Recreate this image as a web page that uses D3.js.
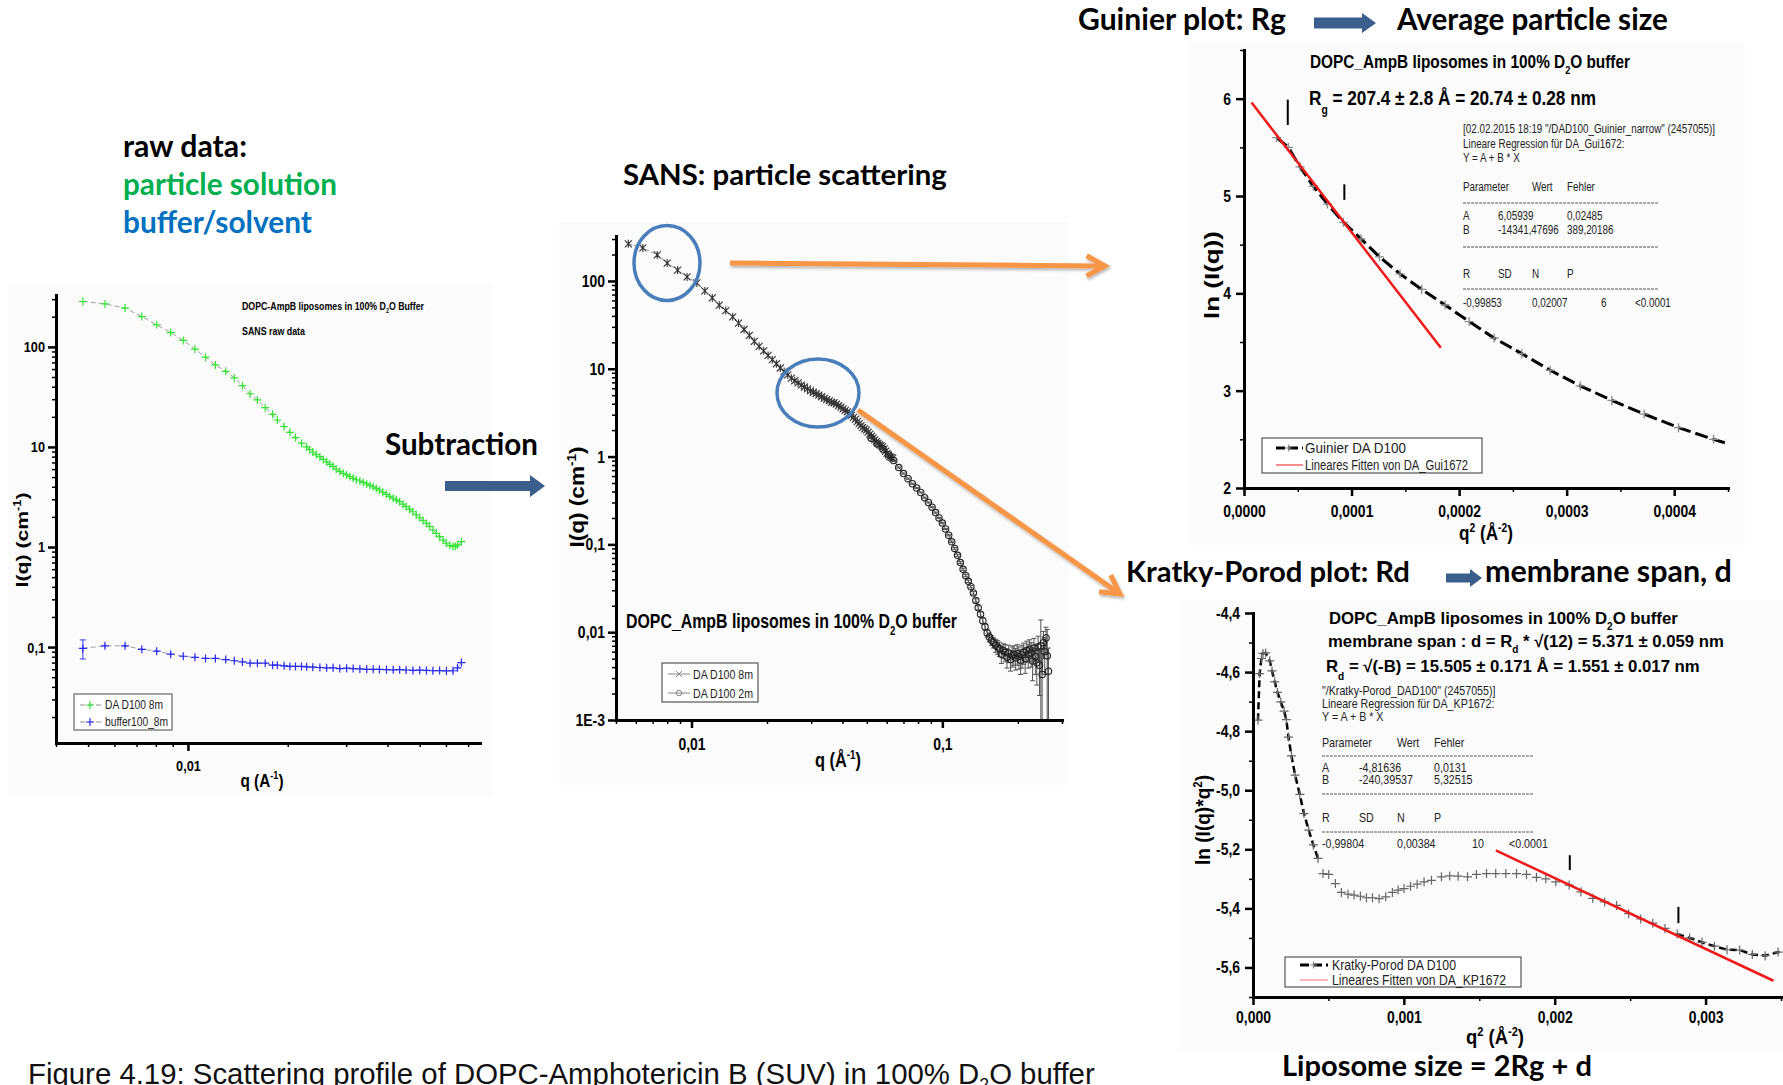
<!DOCTYPE html>
<meta charset="utf-8">
<style>

    body {
        margin: 0;
        background: #fff;
    }

    svg {
        display: block;
    }

</style>
<body>

    <div id="chart"></div>

    <script src="https://d3js.org/d3.v7.min.js"></script>

    <script type="text/javascript">

        // ---- panel 1: raw data, [q (1/A), I (1/cm)] ----
        var rawSample = [[0.00482,284],[0.00562,269],[0.00646,244],[0.00726,201],[0.00805,166],[0.00887,139],[0.00968,116],
            [0.0105,95],[0.0113,79],[0.0121,66],[0.0130,57],[0.0138,49],[0.0146,41],[0.0154,34],[0.0162,29.5],[0.0171,24.7],
            [0.0180,21.2],[0.0186,18.6],[0.0195,16],[0.0203,14],[0.0211,12.4],[0.0220,10.9],[0.0228,10.0],[0.0233,9.4],
            [0.0238,8.9],[0.0244,8.4],[0.0250,8.0],[0.0256,7.5],[0.0262,7.1],[0.0268,6.7],[0.0274,6.4],[0.0280,6.0],
            [0.0287,5.7],[0.0294,5.45],[0.0301,5.25],[0.0308,5.05],[0.0315,4.86],[0.0322,4.7],[0.0330,4.57],[0.0338,4.42],
            [0.0346,4.27],[0.0354,4.13],[0.0362,4.0],[0.0370,3.85],[0.0378,3.7],[0.0387,3.52],[0.0397,3.36],[0.0406,3.2],
            [0.0416,3.07],[0.0425,2.96],[0.0435,2.84],[0.0445,2.68],[0.0455,2.53],[0.0466,2.39],[0.0477,2.25],[0.0488,2.1],
            [0.0500,1.96],[0.0512,1.84],[0.0524,1.73],[0.0536,1.6],[0.0548,1.48],[0.0561,1.37],[0.0574,1.27],[0.0588,1.17],
            [0.0602,1.09],[0.0616,1.04],[0.0630,1.01],[0.0640,1.02],[0.0650,1.05],[0.0668,1.13]];

        // [q, I, error]
        var rawBuffer = [[0.00482,0.097,0.021],[0.00562,0.103,0.005],[0.00646,0.103,0.004],[0.00726,0.095,0.003],
            [0.00805,0.091,0.003],[0.00887,0.085,0.003],[0.00968,0.081,0.002],[0.0105,0.079,0.002],[0.0113,0.077,0.002],
            [0.0121,0.077,0.002],[0.0130,0.075,0.002],[0.0138,0.073,0.002],[0.0146,0.071,0.002],[0.0154,0.069,0.002],
            [0.0162,0.069,0.002],[0.0171,0.069,0.002],[0.0180,0.066,0.002],[0.0186,0.066,0.002],[0.0195,0.065,0.002],
            [0.0203,0.064,0.002],[0.0211,0.064,0.002],[0.0220,0.064,0.002],[0.0228,0.0635,0.002],[0.0238,0.063,0.002],
            [0.0250,0.0625,0.002],[0.0262,0.062,0.002],[0.0274,0.062,0.002],[0.0287,0.061,0.002],[0.0301,0.0615,0.002],
            [0.0315,0.061,0.002],[0.0330,0.0605,0.002],[0.0346,0.060,0.002],[0.0362,0.060,0.002],[0.0378,0.0598,0.002],
            [0.0397,0.0595,0.002],[0.0416,0.0593,0.002],[0.0435,0.0595,0.002],[0.0455,0.059,0.002],[0.0477,0.0585,0.002],
            [0.0500,0.0588,0.002],[0.0524,0.0585,0.002],[0.0548,0.058,0.002],[0.0574,0.0582,0.002],[0.0602,0.0578,0.002],
            [0.0630,0.058,0.003],[0.0650,0.062,0.003],[0.0668,0.070,0.004]];

        // ---- panel 2: buffer-subtracted SANS curve ----
        var sans8m = [[0.0056,265],[0.0064,238],[0.0073,198],[0.0080,160],[0.0088,133],[0.0096,111],[0.0105,95],[0.0113,77],
            [0.0121,64],[0.0129,53],[0.0137,46],[0.0146,39],[0.0154,33],[0.0162,28],[0.0170,24],[0.0178,20.5],[0.0186,18],
            [0.0194,16],[0.0202,14.2],[0.0210,12.7],[0.0218,11.4],[0.0226,10.2],[0.0234,9.3],[0.0242,8.5],[0.0250,7.8],
            [0.0258,7.3],[0.0266,6.9],[0.0274,6.5],[0.0282,6.2],[0.0290,5.9],[0.0298,5.6],[0.0306,5.4],[0.0314,5.2],
            [0.0322,5.0],[0.0330,4.8],[0.0338,4.6],[0.0346,4.45],[0.0354,4.3],[0.0362,4.15],[0.0370,4.1],[0.0378,3.95],
            [0.0386,3.8],[0.0394,3.65],[0.0402,3.5],[0.0410,3.35],[0.0418,3.22],[0.0426,3.1],[0.0434,2.95],[0.0442,2.8],
            [0.0450,2.65],[0.0458,2.5],[0.0466,2.37],[0.0474,2.25],[0.0482,2.15],[0.0490,2.07],[0.0498,2.0],[0.0506,1.9],
            [0.0514,1.8],[0.0522,1.71],[0.0530,1.63],[0.0538,1.55],[0.0546,1.48],[0.0554,1.42],[0.0562,1.37],[0.0570,1.33],
            [0.0578,1.29],[0.0586,1.22],[0.0594,1.15],[0.0602,1.09],[0.0610,1.04],[0.0618,1.0],[0.0626,0.98],[0.0634,0.96]];

        // [q, I, error]
        var sans2m = [[0.052,1.62,0.01],[0.055,1.40,0.01],[0.058,1.22,0.01],[0.061,1.05,0.01],[0.064,0.90,0.01],
            [0.067,0.75,0.01],[0.070,0.64,0.01],[0.073,0.56,0.008],[0.076,0.49,0.007],[0.079,0.44,0.006],[0.082,0.39,0.005],
            [0.085,0.34,0.005],[0.088,0.30,0.004],[0.091,0.265,0.004],[0.094,0.23,0.003],[0.097,0.20,0.003],[0.100,0.175,0.003],
            [0.103,0.15,0.002],[0.106,0.127,0.002],[0.109,0.107,0.002],[0.112,0.09,0.002],[0.115,0.075,0.002],
            [0.118,0.062,0.0015],[0.121,0.052,0.0015],[0.124,0.044,0.0012],[0.127,0.038,0.0012],[0.130,0.033,0.001],
            [0.133,0.028,0.001],[0.136,0.023,0.001],[0.139,0.019,0.001],[0.142,0.016,0.001],[0.145,0.0135,0.001],
            [0.148,0.0115,0.001],[0.151,0.0098,0.001],[0.154,0.0088,0.001],[0.157,0.0081,0.001],[0.160,0.0076,0.001],
            [0.163,0.0071,0.0012],[0.166,0.0068,0.0012],[0.169,0.0065,0.0012],[0.172,0.0056,0.0012],[0.175,0.0062,0.0012],
            [0.178,0.0059,0.0013],[0.181,0.0052,0.0013],[0.184,0.0058,0.0013],[0.187,0.0049,0.0013],[0.190,0.0054,0.0014],
            [0.193,0.0056,0.0014],[0.196,0.0051,0.0014],[0.199,0.0057,0.0015],[0.202,0.0053,0.0015],[0.205,0.0048,0.0015],
            [0.208,0.0055,0.0016],[0.211,0.0059,0.0016],[0.214,0.0050,0.0016],[0.217,0.0062,0.0017],[0.220,0.0056,0.0017],
            [0.223,0.0064,0.0018],[0.226,0.0058,0.0018],[0.229,0.0047,0.0019],[0.232,0.0066,0.0019],[0.235,0.0053,0.002],
            [0.238,0.0045,0.002],[0.241,0.0068,0.0022],[0.244,0.0042,0.0023],[0.247,0.0070,0.0068],[0.250,0.0033,0.0024],
            [0.253,0.0076,0.0026],[0.256,0.0060,0.0027],[0.259,0.0086,0.0028],[0.262,0.0054,0.0053],[0.265,0.0036,0.003]];

        // ---- panel 3: Guinier, [q^2, ln I] ----
        var guinier = [[0.0000304,5.60],[0.0000412,5.50],[0.0000521,5.30],[0.0000645,5.10],[0.0000775,4.92],[0.0000924,4.73],
            [0.0001088,4.56],[0.0001259,4.375],[0.0001451,4.20],[0.0001653,4.04],[0.0001870,3.88],[0.0002093,3.71],
            [0.0002326,3.54],[0.0002583,3.38],[0.0002847,3.21],[0.0003126,3.05],[0.0003420,2.90],[0.0003721,2.76],
            [0.0004040,2.62],[0.0004366,2.50],[0.0004700,2.39]];
        var guinierFit = [[0.000007,5.96],[0.000183,3.44]];
        // fit range markers [q^2, from, to]
        var guinierMarks = [[0.0000407,5.73,5.99],[0.0000933,4.96,5.12]];

        // ---- panel 4: Kratky-Porod, [q^2, ln(I q^2)] ----
        var kratky = [[0.000033,-4.763],[0.000044,-4.605],[0.000056,-4.554],[0.000066,-4.537],[0.000084,-4.535],
            [0.000111,-4.562],[0.000126,-4.596],[0.000144,-4.633],[0.000162,-4.669],[0.000184,-4.701],[0.000206,-4.732],
            [0.000221,-4.761],[0.000235,-4.820],[0.000255,-4.884],[0.000279,-4.949],[0.000310,-5.014],[0.000338,-5.079],
            [0.000369,-5.135],[0.000400,-5.185],[0.000431,-5.231],[0.000464,-5.282],[0.000502,-5.285],[0.000546,-5.316],
            [0.000586,-5.346],[0.000630,-5.352],[0.000670,-5.355],[0.000712,-5.359],[0.000752,-5.364],[0.000792,-5.364],
            [0.000836,-5.367],[0.000880,-5.361],[0.000924,-5.346],[0.000962,-5.338],[0.001001,-5.333],[0.001044,-5.325],
            [0.001088,-5.318],[0.001134,-5.310],[0.001183,-5.305],[0.001249,-5.293],[0.001304,-5.290],[0.001360,-5.291],
            [0.001422,-5.293],[0.001481,-5.285],[0.001548,-5.282],[0.001609,-5.282],[0.001676,-5.282],[0.001747,-5.282],
            [0.001813,-5.285],[0.001879,-5.295],[0.001941,-5.300],[0.002007,-5.310],[0.002096,-5.321],[0.002174,-5.344],
            [0.002252,-5.366],[0.002331,-5.378],[0.002410,-5.390],[0.002490,-5.418],[0.002570,-5.436],[0.002650,-5.450],
            [0.002731,-5.468],[0.002812,-5.487],[0.002894,-5.500],[0.002976,-5.515],[0.003059,-5.528],[0.003142,-5.540],
            [0.003226,-5.541],[0.003310,-5.556],[0.003395,-5.560],[0.003481,-5.548],[0.003567,-5.560]];
        var kratkyFit = [[0.00161,-5.204],[0.00345,-5.645]];
        var kratkyMarks = [[0.0021,-5.27,-5.22],[0.00282,-5.45,-5.395]];

        // ---- ticks ----
        var p1XTicks = [0.01], p1XLabels = ["0,01"];
        var p1YTicks = [0.1, 1, 10, 100], p1YLabels = ["0,1", "1", "10", "100"];
        var p2XTicks = [0.01, 0.1], p2XLabels = ["0,01", "0,1"];
        var p2YTicks = [0.001, 0.01, 0.1, 1, 10, 100], p2YLabels = ["1E-3", "0,01", "0,1", "1", "10", "100"];
        var p3XTicks = [0, 0.0001, 0.0002, 0.0003, 0.0004], p3XLabels = ["0,0000", "0,0001", "0,0002", "0,0003", "0,0004"];
        var p3XMinor = [0.00005, 0.00015, 0.00025, 0.00035, 0.00045];
        var p3YTicks = [2, 3, 4, 5, 6], p3YLabels = ["2", "3", "4", "5", "6"];
        var p3YMinor = [2.5, 3.5, 4.5, 5.5, 6.5];
        var p4XTicks = [0, 0.001, 0.002, 0.003], p4XLabels = ["0,000", "0,001", "0,002", "0,003"];
        var p4XMinor = [0.0005, 0.0015, 0.0025, 0.0035];
        var p4YTicks = [-5.6, -5.4, -5.2, -5.0, -4.8, -4.6, -4.4];
        var p4YLabels = ["-5,6", "-5,4", "-5,2", "-5,0", "-4,8", "-4,6", "-4,4"];
        var p4YMinor = [-5.7, -5.5, -5.3, -5.1, -4.9, -4.7, -4.5];

        // regression reports: rows of [column, text], "rule" = dashed separator
        var guinierReport = [
            [[0, '[02.02.2015 18:19 "/DAD100_Guinier_narrow" (2457055)]']],
            [[0, "Lineare Regression für DA_Gui1672:"]],
            [[0, "Y = A + B * X"]],
            [[0, "Parameter"], [2, "Wert"], [3, "Fehler"]],
            "rule",
            [[0, "A"], [1, "6,05939"], [3, "0,02485"]],
            [[0, "B"], [1, "-14341,47696"], [3, "389,20186"]],
            "rule",
            [[0, "R"], [1, "SD"], [2, "N"], [3, "P"]],
            "rule",
            [[0, "-0,99853"], [2, "0,02007"], [4, "6"], [5, "<0.0001"]]
        ];
        var kratkyReport = [
            [[0, '"/Kratky-Porod_DAD100" (2457055)]']],
            [[0, "Lineare Regression für DA_KP1672:"]],
            [[0, "Y = A + B * X"]],
            [[0, "Parameter"], [2, "Wert"], [3, "Fehler"]],
            "rule",
            [[0, "A"], [1, "-4,81636"], [3, "0,0131"]],
            [[0, "B"], [1, "-240,39537"], [3, "5,32515"]],
            "rule",
            [[0, "R"], [1, "SD"], [2, "N"], [3, "P"]],
            "rule",
            [[0, "-0,99804"], [2, "0,00384"], [4, "10"], [5, "<0.0001"]]
        ];

        // fonts: the plot texts are a narrow Arial, made by squeezing Liberation Sans
        var NARROW = '"Liberation Sans", Arial, sans-serif',
            ARIAL = '"Liberation Sans", Arial, sans-serif',
            SLIDE = 'Lato, "Open Sans", sans-serif',
            SQUEEZE = 0.82;

        var svg = d3.select("#chart")
            .append("svg")
            .attr("width", 1783)
            .attr("height", 1085);

        var defs = svg.append("defs");

        defs.append("filter")
            .attr("id", "shadow")
            .attr("filterUnits", "userSpaceOnUse")
            .attr("x", 0).attr("y", 0).attr("width", 1783).attr("height", 1085)
            .append("feDropShadow")
            .attr("dx", 1).attr("dy", 2).attr("stdDeviation", 1.5)
            .attr("flood-color", "#000").attr("flood-opacity", 0.3);

        // faint backgrounds of the pasted plot images
        [[8, 283, 484, 514], [559, 222, 510, 563], [1188, 42, 557, 503], [1180, 600, 603, 452]].forEach(function (r) {
            svg.append("rect")
                .attr("x", r[0]).attr("y", r[1]).attr("width", r[2]).attr("height", r[3])
                .attr("fill", "#fbfbfb");
        });

        function squeeze(node, width) {
            var len = node.getComputedTextLength();
            d3.select(node)
                .attr("textLength", width || len * SQUEEZE)
                .attr("lengthAdjust", "spacingAndGlyphs");
        }

        // text with sub/superscript parts; narrow texts are squeezed, others fitted by size
        function label(parent, o) {

            var narrow = !o.font;

            var t = parent.append("text")
                .attr("x", o.x)
                .attr("y", o.y)
                .attr("font-family", o.font || NARROW)
                .attr("font-weight", o.bold ? "bold" : "normal")
                .attr("fill", o.color || "#000")
                .attr("text-anchor", o.anchor || "start");

            if (o.rotate) t.attr("transform", "rotate(-90," + o.x + "," + o.y + ")");

            function fill(size) {
                t.selectAll("*").remove();
                t.attr("font-size", size);
                var shift = 0;
                o.parts.forEach(function (p) {
                    var s = typeof p === "string" ? [p, ""] : p;
                    var target = s[1] === "sub" ? size * (s[2] || 0.3) : s[1] === "sup" ? -size * 0.4 : 0;
                    var ts = t.append("tspan").text(s[0]);
                    if (target - shift) ts.attr("dy", target - shift);
                    if (s[1]) ts.attr("font-size", size * 0.6);
                    shift = target;
                });
            }

            fill(o.size);
            if (narrow) squeeze(t.node(), o.width);
            else if (o.width) fill(o.size * o.width / t.node().getComputedTextLength());
            return t;
        }

        function styleAxis(sel, w, size) {
            sel.select(".domain")
                .attr("stroke", "#000")
                .attr("stroke-width", 3)
                .attr("stroke-linecap", "square");
            sel.selectAll(".tick line")
                .attr("stroke", "#000")
                .attr("stroke-width", w);
            if (!size) {
                sel.selectAll("text").remove();
                return;
            }
            sel.selectAll("text")
                .attr("font-family", NARROW)
                .attr("font-weight", "bold")
                .attr("font-size", size)
                .attr("fill", "#000")
                .each(function () { squeeze(this); });
        }

        function drawAxes(g, x, y, o) {

            var x0 = x.range()[0],
                y0 = y.range()[0];

            g.append("g")
                .attr("transform", "translate(0," + y0 + ")")
                .call(d3.axisBottom(x).tickValues(o.xMinor).tickSize(4).tickSizeOuter(0))
                .call(styleAxis, 1.5, 0);

            g.append("g")
                .attr("transform", "translate(" + x0 + ",0)")
                .call(d3.axisLeft(y).tickValues(o.yMinor).tickSize(4).tickSizeOuter(0))
                .call(styleAxis, 1.5, 0);

            g.append("g")
                .attr("transform", "translate(0," + y0 + ")")
                .call(d3.axisBottom(x).tickValues(o.xTicks).tickSize(8).tickPadding(o.xPad).tickSizeOuter(0)
                    .tickFormat(function (d, i) { return o.xLabels[i]; }))
                .call(styleAxis, 2.5, o.font);

            g.append("g")
                .attr("transform", "translate(" + x0 + ",0)")
                .call(d3.axisLeft(y).tickValues(o.yTicks).tickSize(8).tickPadding(o.yPad).tickSizeOuter(0)
                    .tickFormat(function (d, i) { return o.yLabels[i]; }))
                .call(styleAxis, 2.5, o.font);
        }

        function plusMarks(g, data, x, y, s, color, w) {
            g.selectAll(null)
                .data(data)
                .enter()
                .append("path")
                .attr("d", "M" + (-s) + ",0H" + s + "M0," + (-s) + "V" + s)
                .attr("transform", function (d) { return "translate(" + x(d[0]) + "," + y(d[1]) + ")"; })
                .attr("fill", "none")
                .attr("stroke", color)
                .attr("stroke-width", w);
        }

        function errorBars(g, data, x, y, color, cap) {
            var lo = y.domain()[0];
            g.selectAll(null)
                .data(data)
                .enter()
                .append("path")
                .attr("d", function (d) {
                    var xa = x(d[0]),
                        y1 = y(Math.max(d[1] - d[2], lo)),
                        y2 = y(d[1] + d[2]);
                    var p = "M" + xa + "," + y1 + "V" + y2;
                    if (cap) p += "M" + (xa - cap) + "," + y1 + "h" + (2 * cap) + "M" + (xa - cap) + "," + y2 + "h" + (2 * cap);
                    return p;
                })
                .attr("fill", "none")
                .attr("stroke", color)
                .attr("stroke-width", 1);
        }

        function report(g, rows, cols, baselines, right, size) {
            rows.forEach(function (row, i) {
                if (row === "rule") {
                    g.append("line")
                        .attr("x1", cols[0]).attr("x2", right)
                        .attr("y1", baselines[i]).attr("y2", baselines[i])
                        .attr("stroke", "#555")
                        .attr("stroke-width", 1)
                        .attr("stroke-dasharray", "3,1");
                    return;
                }
                row.forEach(function (cell) {
                    label(g, { x: cols[cell[0]], y: baselines[i], parts: [cell[1]], size: size, color: "#222" });
                });
            });
        }

        // ================= panel 1: raw data =================
        var p1 = svg.append("g");

        var x1 = d3.scaleLog().domain([0.004, 0.076]).range([56, 480]),
            y1 = d3.scaleLog().domain([0.011, 330]).range([743, 295]);

        var line1 = d3.line()
            .x(function (d) { return x1(d[0]); })
            .y(function (d) { return y1(d[1]); });

        p1.append("path").datum(rawSample).attr("d", line1)
            .attr("fill", "none").attr("stroke", "#888").attr("stroke-width", 0.8).attr("stroke-dasharray", "5,3");
        p1.append("path").datum(rawBuffer).attr("d", line1)
            .attr("fill", "none").attr("stroke", "#888").attr("stroke-width", 0.8).attr("stroke-dasharray", "5,3");

        errorBars(p1, rawBuffer.slice(0, 1), x1, y1, "#3a3af0", 3);
        errorBars(p1, rawBuffer.slice(1), x1, y1, "#5a5af5", 0);
        plusMarks(p1, rawSample, x1, y1, 4, "#33e633", 1.2);
        plusMarks(p1, rawBuffer, x1, y1, 4, "#2a2af0", 1.2);

        drawAxes(p1, x1, y1, {
            xTicks: p1XTicks, xLabels: p1XLabels, xMinor: x1.ticks().filter(function (d) { return p1XTicks.indexOf(d) < 0; }),
            yTicks: p1YTicks, yLabels: p1YLabels, yMinor: y1.ticks().filter(function (d) { return p1YTicks.indexOf(d) < 0; }),
            xPad: 9, yPad: 3, font: 15.5
        });

        label(p1, { x: 242, y: 310, parts: ["DOPC-AmpB liposomes in 100% D", ["2", "sub"], "O Buffer"], size: 11, bold: true, width: 182 });
        label(p1, { x: 242, y: 335, parts: ["SANS raw data"], size: 11, bold: true, width: 63 });
        label(p1, { x: 28, y: 540, parts: ["I(q) (cm", ["-1", "sup"], ")"], size: 17, bold: true, anchor: "middle", rotate: true, width: 95 });
        label(p1, { x: 262, y: 787, parts: ["q (A", ["-1", "sup"], ")"], size: 19, bold: true, anchor: "middle", width: 43 });

        // legend
        p1.append("rect").attr("x", 74).attr("y", 694).attr("width", 98).attr("height", 36)
            .attr("fill", "#fff").attr("stroke", "#666").attr("stroke-width", 1.2);
        [[705, "#33e633", "DA D100 8m"], [722, "#2a2af0", "buffer100_8m"]].forEach(function (e) {
            p1.append("line").attr("x1", 80).attr("x2", 102).attr("y1", e[0]).attr("y2", e[0])
                .attr("stroke", "#777").attr("stroke-width", 0.8).attr("stroke-dasharray", "5,3");
            p1.append("path").attr("d", "M86," + e[0] + "h8M90," + (e[0] - 4) + "v8")
                .attr("stroke", e[1]).attr("stroke-width", 1.2);
            label(p1, { x: 105, y: e[0] + 4, parts: [e[2]], size: 12.5, color: "#222" });
        });

        // ================= panel 2: SANS curve =================
        var p2 = svg.append("g");

        var x2 = d3.scaleLog().domain([0.005, 0.3]).range([616, 1062]),
            y2 = d3.scaleLog().domain([0.001, 325]).range([720, 236]);

        var line2 = d3.line()
            .x(function (d) { return x2(d[0]); })
            .y(function (d) { return y2(d[1]); });

        p2.append("path").datum(sans8m).attr("d", line2)
            .attr("fill", "none").attr("stroke", "#777").attr("stroke-width", 0.8).attr("stroke-dasharray", "4,2");
        p2.append("path").datum(sans2m).attr("d", line2)
            .attr("fill", "none").attr("stroke", "#444").attr("stroke-width", 0.8);

        errorBars(p2, sans2m, x2, y2, "#555", 2.5);

        p2.selectAll(null)
            .data(sans8m)
            .enter()
            .append("path")
            .attr("d", "M-3.5,-3.5L3.5,3.5M-3.5,3.5L3.5,-3.5M0,-4V4")
            .attr("transform", function (d) { return "translate(" + x2(d[0]) + "," + y2(d[1]) + ")"; })
            .attr("fill", "none").attr("stroke", "#333").attr("stroke-width", 1.1);

        p2.selectAll(null)
            .data(sans2m)
            .enter()
            .append("circle")
            .attr("cx", function (d) { return x2(d[0]); })
            .attr("cy", function (d) { return y2(d[1]); })
            .attr("r", 3.2)
            .attr("fill", "none").attr("stroke", "#222").attr("stroke-width", 1.1);

        drawAxes(p2, x2, y2, {
            xTicks: p2XTicks, xLabels: p2XLabels, xMinor: x2.ticks().filter(function (d) { return p2XTicks.indexOf(d) < 0; }),
            yTicks: p2YTicks, yLabels: p2YLabels, yMinor: y2.ticks().filter(function (d) { return p2YTicks.indexOf(d) < 0; }),
            xPad: 10, yPad: 3, font: 17
        });

        label(p2, { x: 626, y: 628, parts: ["DOPC_AmpB liposomes in 100% D", ["2", "sub", 0.35], "O buffer"], size: 20, bold: true, width: 331 });
        label(p2, { x: 584, y: 497, parts: ["I(q) (cm", ["-1", "sup"], ")"], size: 21, bold: true, anchor: "middle", rotate: true, width: 101 });
        label(p2, { x: 838, y: 767, parts: ["q (Å", ["-1", "sup"], ")"], size: 21, bold: true, anchor: "middle", width: 46 });

        p2.append("rect").attr("x", 662).attr("y", 663).attr("width", 96).attr("height", 39)
            .attr("fill", "#fff").attr("stroke", "#555").attr("stroke-width", 1.2);
        p2.append("line").attr("x1", 668).attr("x2", 690).attr("y1", 674).attr("y2", 674).attr("stroke", "#888");
        p2.append("path").attr("d", "M676,671l6,6M676,677l6,-6").attr("stroke", "#888").attr("fill", "none");
        p2.append("line").attr("x1", 668).attr("x2", 690).attr("y1", 693).attr("y2", 693).attr("stroke", "#888");
        p2.append("circle").attr("cx", 679).attr("cy", 693).attr("r", 2.8).attr("fill", "none").attr("stroke", "#888");
        label(p2, { x: 693, y: 679, parts: ["DA D100 8m"], size: 13.5, color: "#222", width: 60 });
        label(p2, { x: 693, y: 698, parts: ["DA D100 2m"], size: 13.5, color: "#222", width: 60 });

        // ================= panel 3: Guinier =================
        var p3 = svg.append("g");

        var x3 = d3.scaleLinear().domain([0, 0.00045]).range([1244, 1728]),
            y3 = d3.scaleLinear().domain([2, 6.5]).range([488, 50]);

        defs.append("clipPath").attr("id", "clip3").append("rect")
            .attr("x", 1244).attr("y", 50).attr("width", 484).attr("height", 438);

        var line3 = d3.line()
            .x(function (d) { return x3(d[0]); })
            .y(function (d) { return y3(d[1]); });

        var plot3 = p3.append("g").attr("clip-path", "url(#clip3)");

        plot3.append("path").datum(guinier).attr("d", line3)
            .attr("fill", "none").attr("stroke", "#000").attr("stroke-width", 3).attr("stroke-dasharray", "13,5");
        plusMarks(plot3, guinier, x3, y3, 4.5, "#8a8a8a", 1.3);
        plot3.append("path").datum(guinierFit).attr("d", line3)
            .attr("fill", "none").attr("stroke", "#ee1a1a").attr("stroke-width", 2.5);

        p3.selectAll(null)
            .data(guinierMarks)
            .enter()
            .append("line")
            .attr("x1", function (d) { return x3(d[0]); })
            .attr("x2", function (d) { return x3(d[0]); })
            .attr("y1", function (d) { return y3(d[1]); })
            .attr("y2", function (d) { return y3(d[2]); })
            .attr("stroke", "#000").attr("stroke-width", 2);

        drawAxes(p3, x3, y3, {
            xTicks: p3XTicks, xLabels: p3XLabels, xMinor: p3XMinor,
            yTicks: p3YTicks, yLabels: p3YLabels, yMinor: p3YMinor,
            xPad: 9, yPad: 5, font: 17
        });

        label(p3, { x: 1310, y: 68, parts: ["DOPC_AmpB liposomes in 100% D", ["2", "sub", 0.35], "O buffer"], size: 18, bold: true, width: 320 });
        label(p3, { x: 1309, y: 105, parts: ["R", ["g", "sub", 0.45], " = 207.4 ± 2.8 Å = 20.74 ± 0.28 nm"], size: 21, bold: true, width: 287 });
        label(p3, { x: 1219, y: 275, parts: ["ln (I(q))"], size: 21, bold: true, anchor: "middle", rotate: true, width: 88 });
        label(p3, { x: 1486, y: 540, parts: ["q", ["2", "sup"], " (Å", ["-2", "sup"], ")"], size: 20, bold: true, anchor: "middle", width: 54 });

        report(p3, guinierReport, [1463, 1498, 1532, 1567, 1601, 1635],
            [133, 148, 162, 191, 203, 220, 234, 247, 278, 289, 307], 1658, 12);

        p3.append("rect").attr("x", 1262).attr("y", 438).attr("width", 220).attr("height", 35)
            .attr("fill", "#fff").attr("stroke", "#555").attr("stroke-width", 1.2);
        p3.append("line").attr("x1", 1276).attr("x2", 1303).attr("y1", 448).attr("y2", 448)
            .attr("stroke", "#000").attr("stroke-width", 3).attr("stroke-dasharray", "9,4");
        p3.append("path").attr("d", "M1285,448h7M1288.5,444.5v7").attr("stroke", "#888").attr("stroke-width", 1.2);
        p3.append("line").attr("x1", 1276).attr("x2", 1303).attr("y1", 465).attr("y2", 465)
            .attr("stroke", "#ee1a1a").attr("stroke-width", 1);
        label(p3, { x: 1305, y: 453, parts: ["Guinier DA D100"], size: 14, color: "#222", width: 101 });
        label(p3, { x: 1305, y: 470, parts: ["Lineares Fitten von DA_Gui1672"], size: 14, color: "#222", width: 163 });

        // ================= panel 4: Kratky-Porod =================
        var p4 = svg.append("g");

        var x4 = d3.scaleLinear().domain([0, 0.0035]).range([1253, 1781]),
            y4 = d3.scaleLinear().domain([-5.7, -4.4]).range([997, 613]);

        defs.append("clipPath").attr("id", "clip4").append("rect")
            .attr("x", 1253).attr("y", 600).attr("width", 530).attr("height", 397);

        var line4 = d3.line()
            .defined(function (d) { return d[0] < 0.00046 || d[0] > 0.0028; })
            .x(function (d) { return x4(d[0]); })
            .y(function (d) { return y4(d[1]); });

        var plot4 = p4.append("g").attr("clip-path", "url(#clip4)");

        plot4.append("path").datum(kratky).attr("d", line4)
            .attr("fill", "none").attr("stroke", "#000").attr("stroke-width", 2.5).attr("stroke-dasharray", "7,4");
        plusMarks(plot4, kratky, x4, y4, 4.5, "#666", 1.2);
        plot4.append("path").datum(kratkyFit).attr("d", line4.defined(function () { return true; }))
            .attr("fill", "none").attr("stroke", "#ee1a1a").attr("stroke-width", 2.5);

        p4.selectAll(null)
            .data(kratkyMarks)
            .enter()
            .append("line")
            .attr("x1", function (d) { return x4(d[0]); })
            .attr("x2", function (d) { return x4(d[0]); })
            .attr("y1", function (d) { return y4(d[1]); })
            .attr("y2", function (d) { return y4(d[2]); })
            .attr("stroke", "#000").attr("stroke-width", 2);

        drawAxes(p4, x4, y4, {
            xTicks: p4XTicks, xLabels: p4XLabels, xMinor: p4XMinor,
            yTicks: p4YTicks, yLabels: p4YLabels, yMinor: p4YMinor,
            xPad: 6, yPad: 5, font: 17
        });

        label(p4, { x: 1329, y: 624, parts: ["DOPC_AmpB liposomes in 100% D", ["2", "sub", 0.35], "O buffer"], size: 16, bold: true, font: ARIAL, width: 349 });
        label(p4, { x: 1328, y: 647, parts: ["membrane span : d = R", ["d", "sub", 0.35], " * √(12) = 5.371 ± 0.059 nm"], size: 16, bold: true, font: ARIAL, width: 396 });
        label(p4, { x: 1326, y: 672, parts: ["R", ["d", "sub", 0.45], " = √(-B) = 15.505 ± 0.171 Å = 1.551 ± 0.017 nm"], size: 16, bold: true, font: ARIAL, width: 374 });
        label(p4, { x: 1210, y: 820, parts: ["ln (I(q)*q", ["2", "sup"], ")"], size: 21, bold: true, anchor: "middle", rotate: true, width: 90 });
        label(p4, { x: 1495, y: 1044, parts: ["q", ["2", "sup"], " (Å", ["-2", "sup"], ")"], size: 20, bold: true, anchor: "middle", width: 58 });

        report(p4, kratkyReport, [1322, 1359, 1397, 1434, 1472, 1509],
            [695, 708, 721, 747, 756, 772, 784, 794, 822, 832, 848], 1533, 13);

        p4.append("rect").attr("x", 1285).attr("y", 957).attr("width", 236).attr("height", 30)
            .attr("fill", "#fff").attr("stroke", "#555").attr("stroke-width", 1.2);
        p4.append("line").attr("x1", 1300).attr("x2", 1328).attr("y1", 965).attr("y2", 965)
            .attr("stroke", "#000").attr("stroke-width", 3).attr("stroke-dasharray", "9,4");
        p4.append("path").attr("d", "M1310,965h7M1313.5,961.5v7").attr("stroke", "#888").attr("stroke-width", 1.2);
        p4.append("line").attr("x1", 1300).attr("x2", 1328).attr("y1", 980).attr("y2", 980)
            .attr("stroke", "#f4a0a0").attr("stroke-width", 1.5);
        label(p4, { x: 1332, y: 970, parts: ["Kratky-Porod DA D100"], size: 14, color: "#222", width: 124 });
        label(p4, { x: 1332, y: 985, parts: ["Lineares Fitten von DA_KP1672"], size: 14, color: "#222", width: 174 });

        // ================= slide annotations =================
        var annot = svg.append("g");

        // blue circles on the SANS curve
        [[667, 263, 33, 37.5], [818, 393, 41, 34]].forEach(function (e) {
            annot.append("ellipse")
                .attr("cx", e[0]).attr("cy", e[1]).attr("rx", e[2]).attr("ry", e[3])
                .attr("fill", "none").attr("stroke", "#4a7ebb").attr("stroke-width", 3.5);
        });

        // orange arrows towards the Guinier and Kratky plots
        var arrows = annot.append("g").attr("filter", "url(#shadow)");
        [[730, 263, 1105, 266], [858, 410, 1120, 594]].forEach(function (a) {
            var ang = Math.atan2(a[3] - a[1], a[2] - a[0]),
                L = 21, s = 0.5;
            arrows.append("line")
                .attr("x1", a[0]).attr("y1", a[1]).attr("x2", a[2] - 2 * Math.cos(ang)).attr("y2", a[3] - 2 * Math.sin(ang))
                .attr("stroke", "#f79646").attr("stroke-width", 5);
            arrows.append("path")
                .attr("d", "M" + (a[2] - L * Math.cos(ang - s)) + "," + (a[3] - L * Math.sin(ang - s)) +
                    "L" + a[2] + "," + a[3] +
                    "L" + (a[2] - L * Math.cos(ang + s)) + "," + (a[3] - L * Math.sin(ang + s)))
                .attr("fill", "none").attr("stroke", "#f79646").attr("stroke-width", 5)
                .attr("stroke-linejoin", "miter").attr("stroke-linecap", "butt");
        });

        // dark blue block arrows
        [[445, 545, 486, 10, 22, 15], [1314, 1376, 23, 11, 20, 14], [1446, 1482, 578, 9, 18, 12]].forEach(function (b) {
            var x0 = b[0], x1 = b[1], yc = b[2], bh = b[3] / 2, hh = b[4] / 2, hl = b[5];
            annot.append("path")
                .attr("d", "M" + x0 + "," + (yc - bh) + "H" + (x1 - hl) + "V" + (yc - hh) + "L" + x1 + "," + yc +
                    "L" + (x1 - hl) + "," + (yc + hh) + "V" + (yc + bh) + "H" + x0 + "Z")
                .attr("fill", "#3b5e8c");
        });

        label(annot, { x: 123, y: 157, parts: ["raw data:"], size: 30, bold: true, font: SLIDE, width: 124 });
        label(annot, { x: 123, y: 195, parts: ["particle solution"], size: 30, bold: true, font: SLIDE, color: "#00b050", width: 214 });
        label(annot, { x: 123, y: 233, parts: ["buffer/solvent"], size: 30, bold: true, font: SLIDE, color: "#0070c0", width: 189 });
        label(annot, { x: 623, y: 185, parts: ["SANS: particle scattering"], size: 30, bold: true, font: SLIDE, width: 324 });
        label(annot, { x: 385, y: 455, parts: ["Subtraction"], size: 30, bold: true, font: SLIDE, width: 153 });
        label(annot, { x: 1078, y: 30, parts: ["Guinier plot: Rg"], size: 30, bold: true, font: SLIDE, width: 208 });
        label(annot, { x: 1397, y: 30, parts: ["Average particle size"], size: 30, bold: true, font: SLIDE, width: 271 });
        label(annot, { x: 1126, y: 582, parts: ["Kratky-Porod plot: Rd"], size: 30, bold: true, font: SLIDE, width: 284 });
        label(annot, { x: 1485, y: 582, parts: ["membrane span, d"], size: 30, bold: true, font: SLIDE, width: 247 });
        label(annot, { x: 1282, y: 1076, parts: ["Liposome size = 2Rg + d"], size: 30, bold: true, font: SLIDE, width: 310 });

        // figure caption, cut by the bottom edge
        label(annot, { x: 28, y: 1084, parts: ["Figure 4.19: Scattering profile of DOPC-Amphotericin B (SUV) in 100% D", ["2", "sub", 0.25], "O buffer"],
            size: 26, font: ARIAL, color: "#111", width: 1067 });

    </script>

</body>
